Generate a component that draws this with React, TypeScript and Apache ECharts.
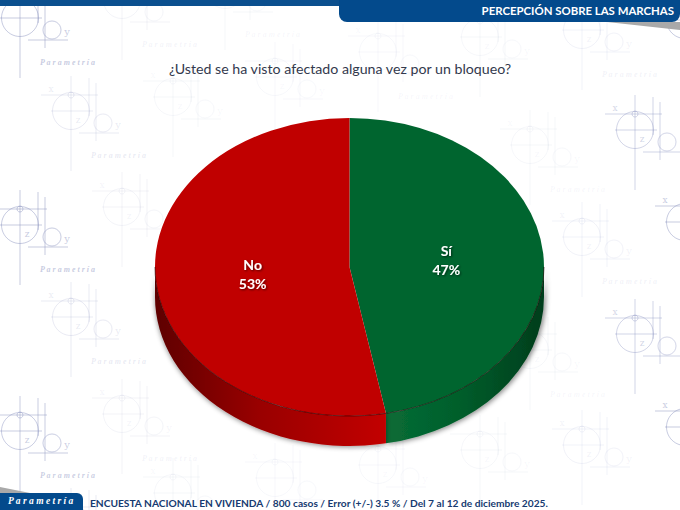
import React, { useEffect, useRef } from "react";
import * as echarts from "echarts";

const sliceNames = ["Sí", "No"];
const sliceValues = [47, 53];
const sliceTopColors = ["#00652f", "#c00000"];
const sliceWallStops = [
  ["#0a6d37", "#00602c", "#003d1c"],
  ["#5e0000", "#990000", "#c20000"],
];

const titleText = "¿Usted se ha visto afectado alguna vez por un bloqueo?";
const headerText = "PERCEPCIÓN SOBRE LAS MARCHAS";
const brandText = "P a r a m e t r í a";
const footerText = "ENCUESTA NACIONAL EN VIVIENDA / 800 casos / Error (+/-) 3.5 % / Del 7 al 12 de diciembre 2025.";

const PIE = { cx: 349.5, cy: 267, rx: 194.5, ry: 149, depth: 30 };
const MARK = "#8f97c2";

// decorative background motif: [centre x, centre y, strength]
const motifs: number[][] = [
  [20, 18, 0.5], [20, 225, 0.5], [20, 431, 0.48],
  [71, 111, 0.2], [71, 317, 0.2], [71, 523, 0.2],
  [122, 0, 0.11], [122, 207, 0.11], [122, 414, 0.11],
  [173, 97, 0.08], [173, 493, 0.08], [225, -10, 0.08],
  [275, 77, 0.07], [275, 478, 0.07], [378, 52, 0.07], [378, 465, 0.07],
  [480, 37, 0.08], [480, 450, 0.08], [530, 145, 0.08], [530, 350, 0.08],
  [582, 30, 0.12], [582, 237, 0.12], [582, 445, 0.12],
  [635, 130, 0.4], [635, 334, 0.4], [685, 20, 0.5], [685, 222, 0.5], [685, 427, 0.5],
];

function inPie(x: number, y: number) {
  const dx = (x - PIE.cx) / (PIE.rx + 10);
  const dy = (y - PIE.cy - PIE.depth / 2) / (PIE.ry + PIE.depth / 2 + 10);
  return dx * dx + dy * dy < 1;
}
const inTitle = (x0: number, x1: number, y: number) => x1 > 160 && x0 < 520 && y > 54 && y < 82;

function motif(cx: number, cy: number, a: number) {
  const out: any[] = [];
  const line = (x1: number, y1: number, x2: number, y2: number) =>
    out.push({
      type: "line",
      silent: true,
      shape: { x1: cx + x1, y1: cy + y1, x2: cx + x2, y2: cy + y2 },
      style: { stroke: MARK, lineWidth: 1, opacity: a },
    });
  const circle = (x: number, y: number, r: number) =>
    out.push({
      type: "circle",
      silent: true,
      shape: { cx: cx + x, cy: cy + y, r },
      style: { fill: "none", stroke: MARK, lineWidth: 1, opacity: a },
    });
  const label = (x: number, y: number, text: string, font: string, align = "center") => {
    const ax = cx + x;
    const ay = cy + y;
    const far = align === "left" ? ax + 60 : ax + 5;
    if (ax < 3 || far > 677 || ay < 30 || ay > 486) return;
    if (inPie(ax, ay) || inPie(far, ay) || inTitle(ax, far, ay)) return;
    out.push({
      type: "text",
      silent: true,
      x: ax,
      y: ay,
      style: { text, fill: MARK, font, opacity: a, align, verticalAlign: "middle" },
    });
  };
  line(0, -35, 0, 60);
  line(18, -33, 18, 5);
  line(25, -28, 25, 30);
  line(-30, -16, 27, -16);
  line(-20, 0, 22, 0);
  line(8, 22, 48, 22);
  circle(0, 0, 18.5);
  circle(0, -16, 3);
  circle(32, 12, 9);
  label(7, 9, "z", "9px 'DejaVu Serif'");
  label(47, 13, "y", "10px 'DejaVu Serif'");
  label(-20, -22, "x", "9px 'DejaVu Serif'");
  label(20, 44, "P a r a m e t r í a", "italic bold 8px 'Liberation Serif'", "left");
  return out;
}

const px = (t: number) => PIE.cx + PIE.rx * Math.sin(t);
const py = (t: number, d = 0) => PIE.cy - PIE.ry * Math.cos(t) + d;
const ang = (share: number) => share * 2 * Math.PI;

function renderSlice(params: any, api: any) {
  const i = params.dataIndex;
  const total = sliceValues.reduce((s, v) => s + v, 0);
  const before = sliceValues.slice(0, i).reduce((s, v) => s + v, 0);
  const value = api.value(0);
  const a0 = ang(before / total);
  const a1 = ang((before + value) / total);
  const { cx, cy, rx, ry, depth } = PIE;
  const large = a1 - a0 > Math.PI ? 1 : 0;
  const top = `M${cx} ${cy}L${px(a0)} ${py(a0)}A${rx} ${ry} 0 ${large} 1 ${px(a1)} ${py(a1)}Z`;
  const w0 = Math.max(a0, Math.PI / 2);
  const w1 = Math.min(a1, (3 * Math.PI) / 2);
  const wall =
    `M${px(w0)} ${py(w0)}A${rx} ${ry} 0 0 1 ${px(w1)} ${py(w1)}` +
    `L${px(w1)} ${py(w1, depth)}A${rx} ${ry} 0 0 0 ${px(w0)} ${py(w0, depth)}Z`;
  const rim = `M${px(w0)} ${py(w0)}A${rx} ${ry} 0 0 1 ${px(w1)} ${py(w1)}`;
  const stops = sliceWallStops[i];
  const mid = (a0 + a1) / 2;
  const lx = cx + 0.5 * rx * Math.sin(mid);
  const ly = cy - 0.5 * ry * Math.cos(mid);
  return {
    type: "group",
    children: [
      {
        type: "path",
        shape: { pathData: wall },
        style: {
          fill: {
            type: "linear",
            global: true,
            x: i === 0 ? cx + 30 : cx - rx,
            y: 0,
            x2: i === 0 ? cx + rx : cx + 36,
            y2: 0,
            colorStops: [
              { offset: 0, color: stops[0] },
              { offset: 0.45, color: stops[1] },
              { offset: 1, color: stops[2] },
            ],
          },
          shadowBlur: 5,
          shadowColor: "rgba(0,0,0,0.45)",
          shadowOffsetX: i === 0 ? 2 : 0,
          shadowOffsetY: 1,
        },
      },
      { type: "path", shape: { pathData: top }, style: { fill: sliceTopColors[i] } },
      { type: "path", shape: { pathData: rim }, style: { fill: "none", stroke: "rgba(30,0,0,0.75)", lineWidth: 0.8 } },
      {
        type: "text",
        x: lx,
        y: ly,
        style: {
          text: `${sliceNames[i]}\n${value}%`,
          fill: "#ffffff",
          font: "bold 14px Lato",
          lineHeight: 19,
          align: "center",
          verticalAlign: "middle",
          textShadowColor: "rgba(0,0,0,0.6)",
          textShadowBlur: 2,
          textShadowOffsetX: 1,
          textShadowOffsetY: 1,
        },
      },
    ],
  };
}

function decorations() {
  const els: any[] = [];
  motifs.forEach(([x, y, a]) => els.push(...motif(x, y, a)));
  const BLUE = "#034a8c";
  els.push(
    { type: "rect", silent: true, shape: { x: 0, y: 0, width: 680, height: 6 }, style: { fill: "#0b4f8e" } },
    { type: "polygon", silent: true, shape: { points: [[607, 22], [680, 22], [680, 30]] }, style: { fill: "#a9a9a9" } },
    { type: "rect", silent: true, shape: { x: 339, y: -8, width: 341, height: 30, r: 8 }, style: { fill: BLUE } },
    {
      type: "text", silent: true, x: 674, y: 10,
      style: { text: headerText, fill: "#ffffff", font: "bold 11.4px Lato", align: "right", verticalAlign: "middle" },
    },
    {
      type: "text", x: 340, y: 68,
      style: { text: titleText, fill: "#33394d", font: "14.2px Lato", align: "center", verticalAlign: "middle" },
    },
    { type: "polygon", silent: true, shape: { points: [[0, 487], [30, 493], [0, 493]] }, style: { fill: "#a9a9a9" } },
    { type: "rect", silent: true, shape: { x: -8, y: 493, width: 91, height: 25, r: 6 }, style: { fill: BLUE } },
    {
      type: "text", x: 8, y: 501,
      style: { text: brandText, fill: "#ffffff", font: "italic bold 9.5px 'Liberation Serif'", align: "left", verticalAlign: "middle" },
    },
    {
      type: "text", x: 90, y: 503,
      style: { text: footerText, fill: "#163a70", font: "bold 10.2px Lato", align: "left", verticalAlign: "middle" },
    },
  );
  return els;
}

export default function App() {
  const ref = useRef<HTMLDivElement>(null);
  useEffect(() => {
    document.body.style.margin = "0";
    document.body.style.background = "#ffffff";
    const chart = echarts.init(ref.current!, null, { renderer: "svg" });
    chart.setOption({
      animation: false,
      backgroundColor: "#ffffff",
      graphic: { elements: decorations() },
      series: [
        {
          type: "custom",
          coordinateSystem: "none",
          silent: true,
          clip: false,
          renderItem: renderSlice,
          data: sliceValues.map((v, i) => ({ name: sliceNames[i], value: [v] })),
        },
      ],
    });
    return () => chart.dispose();
  }, []);
  return <div ref={ref} style={{ width: 680, height: 510 }} />;
}
